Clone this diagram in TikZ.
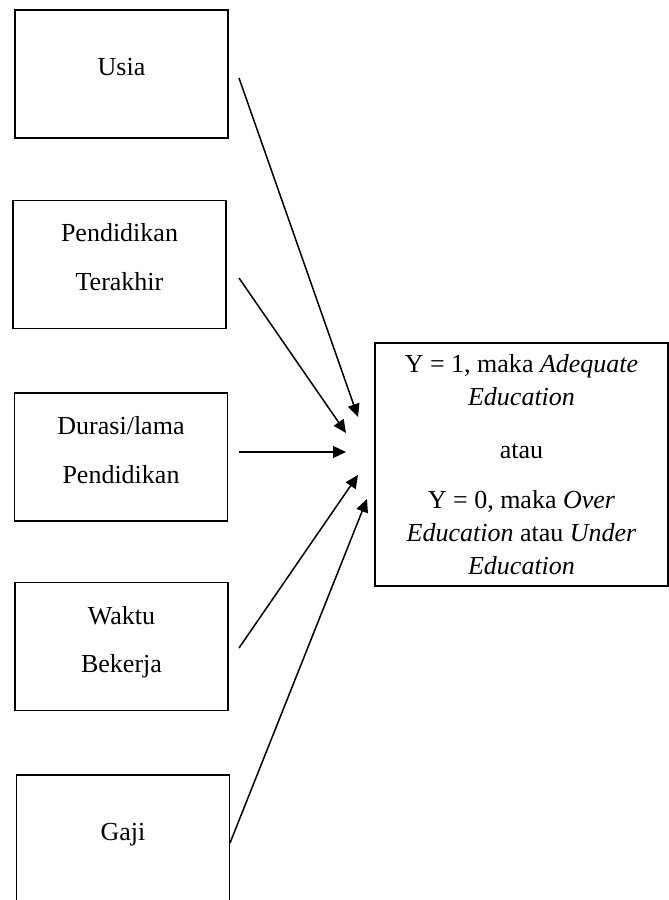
\documentclass[tikz,border=0pt]{standalone}
\usepackage{fontspec}
\setmainfont{Liberation Serif}
\usetikzlibrary{arrows.meta}

\begin{document}
\begin{tikzpicture}[
    x = 0.4615pt, y = -0.4615pt,
    line width = 0.7pt,
    font = \fontsize{12}{15.2}\selectfont
  ]
  \tikzstyle {factor} = [draw, shape = rectangle, line width = 0.8pt, align = center,
    minimum width = 98.3pt, minimum height = 59pt, inner sep = 0, text depth = 6.5pt,
    font = \fontsize{12}{22.6}\selectfont]
  \tikzstyle {outcome} = [draw, shape = rectangle, line width = 0.8pt, align = center,
    minimum width = 135.2pt, minimum height = 112.1pt, inner sep = 0]
  \tikzstyle {link} = [-{Triangle[length = 6pt, width = 5.5pt]}]
  \useasboundingbox (0,0) rectangle (669,900);
  % place nodes
  \path node (usia) [factor] at (121.5,74) {Usia};
  \path node (didik) [factor] at (119.5,264.5) {Pendidikan\\Terakhir};
  \path node (durasi) [factor] at (121,457) {Durasi/lama\\Pendidikan};
  \path node (waktu) [factor] at (121.5,646.5) {Waktu\\Bekerja};
  \path node (gaji) [factor] at (123,839) {Gaji};
  \path node (y) [outcome] at (521.5,464.5)
    {Y = 1, maka \textit{Adequate}\\ \textit{Education}\\[9.3pt]
     atau\\[7.8pt]
     Y = 0, maka \textit{Over}\\ \textit{Education} atau \textit{Under}\\ \textit{Education}};
  % arrow tails and heads
  \path coordinate (usia-o) at (239,78)  coordinate (usia-i) at (358,417);
  \path coordinate (didik-o) at (239,278) coordinate (didik-i) at (346,433);
  \path coordinate (durasi-o) at (239,452) coordinate (durasi-i) at (346,452);
  \path coordinate (waktu-o) at (239,648) coordinate (waktu-i) at (358,475);
  \path coordinate (gaji-o) at (230,843) coordinate (gaji-i) at (367,499);
  % place edges
  \foreach \x in {usia, didik, durasi, waktu, gaji}
    { \draw [link] (\x-o) -- (\x-i) ; } ;
\end{tikzpicture}
\end{document}
